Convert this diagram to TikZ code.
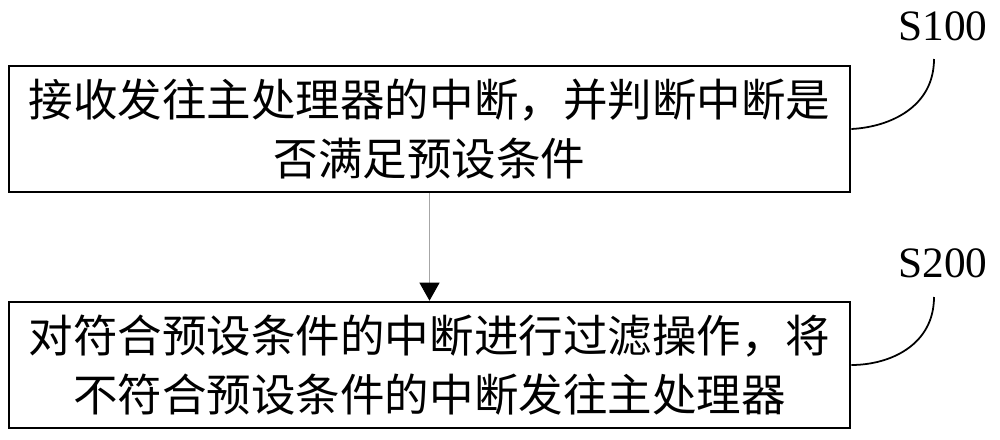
\documentclass[tikz,border=0pt]{standalone}
\usepackage{fontspec}
\setmainfont{Liberation Serif}
\newfontfamily\cjk{Noto Sans CJK SC}
\usepackage{tikz}
\usetikzlibrary{positioning, arrows.meta, calc}

\begin{document}
\begin{tikzpicture}[x=0.03cm, y=-0.03cm,
    stepbox/.style={draw, line width=2.2pt, minimum width=25.23cm, minimum height=3.78cm,
        inner sep=0pt, align=center, font=\cjk\fontsize{38}{51}\selectfont},
    steplabel/.style={inner sep=0pt, font=\fontsize{37}{40}\selectfont}]
    \useasboundingbox (0,0) rectangle (1000,439);
    \node[stepbox] (b1) at (429.5,129) {接收发往主处理器的中断，并判断中断是\\否满足预设条件};
    \node[stepbox] (b2) at (429.5,365) {对符合预设条件的中断进行过滤操作，将\\不符合预设条件的中断发往主处理器};
    \node[steplabel] (s1) at (943,26) {S100};
    \node[steplabel] (s2) at (943,263) {S200};
    \draw[gray!70, line width=0.8pt, -{Triangle[length=0.54cm, width=0.6cm, fill=black, color=black]}] (b1) -- (b2);
    % leader curves
    \foreach \i/\y in {1/59, 2/297} {
        \coordinate (c\i) at (934,\y);
        \draw[line width=1.5pt] (c\i) .. controls (934,\y+48) and (890,\y+68) .. (b\i.east);
    }
\end{tikzpicture}
\end{document}
